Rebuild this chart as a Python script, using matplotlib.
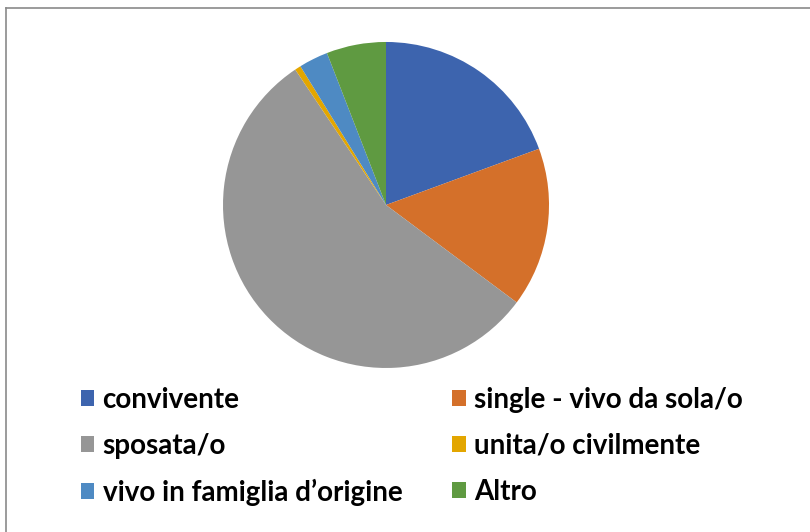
import matplotlib.pyplot as plt
from matplotlib.lines import Line2D
from matplotlib.patches import Patch

# Data (percent)
labels = ["convivente", "single - vivo da sola/o", "sposata/o",
          "unita/o civilmente", "vivo in famiglia d\u2019origine", "Altro"]
values = [19.4, 15.8, 55.4, 0.6, 2.9, 5.9]
colors = ["#3D64AE", "#D4702A", "#969696", "#E3A600", "#4E8AC3", "#5F9A41"]

plt.rcParams["font.family"] = ["Lato", "DejaVu Sans"]

fig = plt.figure(figsize=(8.1, 5.32), dpi=100)

# Pie
ax = fig.add_axes([0.2753, 0.3083, 0.4025, 0.6128])
ax.pie(values, colors=colors, startangle=90, counterclock=False,
       wedgeprops=dict(linewidth=0))
ax.set_xlim(-1, 1)
ax.set_ylim(-1, 1)
ax.set_aspect("equal")
ax.axis("off")

# Legend, row-wise in two columns
order = [0, 2, 4, 1, 3, 5]
handles = [Patch(facecolor=colors[i], edgecolor="none") for i in order]
fig.legend(handles, [labels[i] for i in order], ncol=2,
           loc="upper left", bbox_to_anchor=(0.069, 0.320),
           frameon=False, handlelength=0.48, handleheight=0.48,
           handletextpad=0.3, columnspacing=1.8, labelspacing=0.72,
           prop=dict(weight="bold", size=20))

# Chart frame (only top and left edges visible)
fig.add_artist(Line2D([0.008, 1.0], [1 - 8 / 532, 1 - 8 / 532],
                      color="#8a8a8a", linewidth=1.2))
fig.add_artist(Line2D([0.008, 0.008], [0.0, 1 - 8 / 532],
                      color="#8a8a8a", linewidth=1.2))

fig.savefig("out.png", dpi=100)
